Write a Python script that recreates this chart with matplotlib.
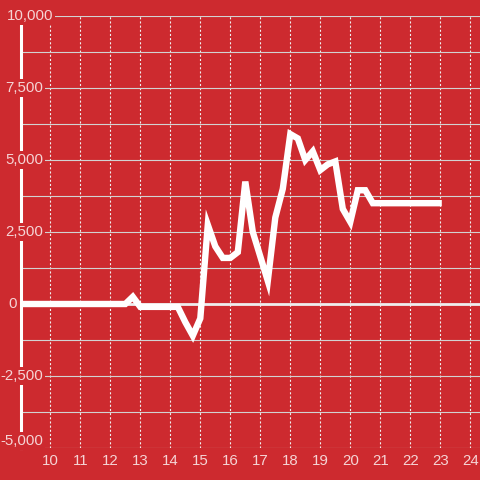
import matplotlib
matplotlib.use("Agg")
import matplotlib.pyplot as plt

# ---- data ----
x_hours = [9.0, 12.5, 12.75, 13.0, 14.25, 14.5, 14.75, 15.0, 15.25, 15.5, 15.75,
           16.0, 16.25, 16.5, 16.75, 17.0, 17.25, 17.5, 17.75, 18.0, 18.25, 18.5,
           18.75, 19.0, 19.25, 19.5, 19.75, 20.0, 20.25, 20.5, 20.75, 23.05]
values = [0, 0, 250, -100, -100, -630, -1100, -500, 2750, 2000, 1600,
          1600, 1800, 4250, 2500, 1650, 800, 3000, 4000, 5900, 5750, 5000,
          5300, 4650, 4850, 4950, 3300, 2850, 3950, 3950, 3500, 3500]
x_ticks = list(range(10, 25))
y_grid = [-5000, -3750, -2500, -1250, 0, 1250, 2500, 3750, 5000, 6250, 7500, 8750, 10000]
y_label_vals = [-5000, -2500, 0, 2500, 5000, 7500, 10000]
y_labels = ["-5,000", "-2,500", "0", "2,500", "5,000", "7,500", "10,000"]

BG = "#cd2a2f"
LABEL = "#f5d4d5"
plt.rcParams['font.family'] = ['Liberation Sans', 'DejaVu Sans']
plt.rcParams['lines.scale_dashes'] = False

fig = plt.figure(figsize=(4.8, 4.8), dpi=100, facecolor=BG)
ax = fig.add_axes([21/480, 32/480, 459/480, 432/480])
ax.set_facecolor(BG)

ax.set_xlim(10 - 29.3/30, 10 - 29.3/30 + 459/30)
ax.set_ylim(-5000, 10000)

ax.set_xticks(x_ticks)
ax.set_yticks(y_grid)
ax.set_yticklabels([])
ax.tick_params(axis='both', length=0)
ax.tick_params(axis='x', colors=LABEL, labelsize=10.8, pad=4)

ax.grid(axis='y', color='#d2d2d2', linewidth=0.8, linestyle='-')
ax.grid(axis='x', color='#f0f0f0', linewidth=0.8, linestyle=(0, (1.5, 1.5)))
ax.set_axisbelow(True)

for s in ['top', 'right', 'bottom']:
    ax.spines[s].set_visible(False)
ax.spines['left'].set_color('white')
ax.spines['left'].set_linewidth(2.2)
ax.spines['left'].set_zorder(2.5)

ax.axhline(0, color='#eeeeee', linewidth=2.0, zorder=2)
ax.plot(x_hours, values, color='white', linewidth=4.6,
        solid_joinstyle='miter', solid_capstyle='butt', zorder=3)

trans = ax.get_yaxis_transform()
for v, lab in zip(y_label_vals, y_labels):
    if lab == "10,000":
        xpos, ha = (6.7 - 21) / 459, 'left'
    elif lab == "0":
        xpos, ha = (8.3 - 21) / 459, 'left'
    else:
        xpos, ha = (43.5 - 21) / 459, 'right'
    va = 'bottom' if v == min(y_label_vals) else 'center'
    ax.text(xpos, v, lab, transform=trans, ha=ha, va=va, color=LABEL,
            fontsize=10.8, clip_on=False, zorder=6,
            bbox=dict(facecolor=BG, edgecolor='none', pad=1.2))

fig.savefig("out.png", dpi=100, facecolor=BG)
